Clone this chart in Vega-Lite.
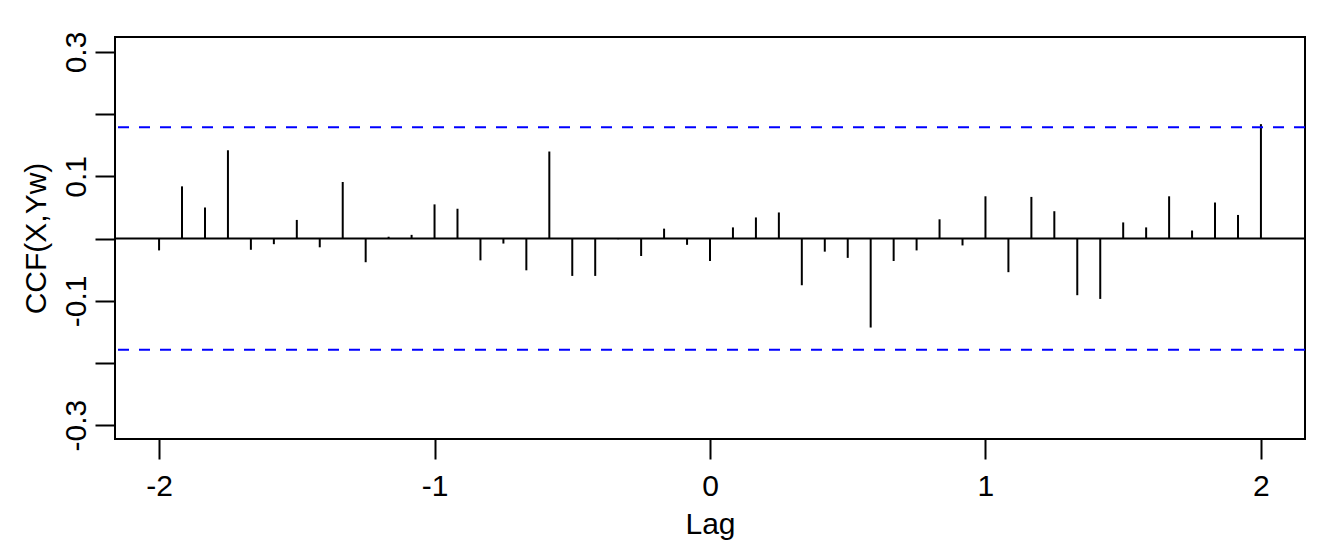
{
  "$schema": "https://vega.github.io/schema/vega-lite/v6.json",
  "width": 1190,
  "height": 402,
  "autosize": {"type": "none"},
  "padding": {"left": 115, "top": 37, "right": 39, "bottom": 117},
  "background": "white",
  "config": {
    "view": {"stroke": "black", "strokeWidth": 2},
    "font": "Liberation Sans"
  },
  "encoding": {
    "y": {
      "field": "ccf",
      "type": "quantitative",
      "scale": {"domain": [-0.3222, 0.3241], "nice": false, "zero": false},
      "axis": {
        "title": "CCF(X,Yw)",
        "values": [-0.3, -0.2, -0.1, 0, 0.1, 0.2, 0.3],
        "labelExpr": "abs(round(datum.value*10)) % 2 == 1 ? (round(datum.value*10) < 0 ? '-0.' : '0.') + abs(round(datum.value*10)) : ''",
        "grid": false,
        "domain": false,
        "tickSize": 20,
        "tickWidth": 2,
        "tickColor": "black",
        "labelFont": "Liberation Sans",
        "labelFontSize": 30,
        "labelColor": "black",
        "labelAngle": 270,
        "labelAlign": "center",
        "labelBaseline": "alphabetic",
        "labelPadding": 10,
        "labelOverlap": false,
        "labelFlush": false,
        "labelBound": false,
        "titleFont": "Liberation Sans",
        "titleFontSize": 30,
        "titleFontWeight": "normal",
        "titleColor": "black",
        "titleAngle": 270,
        "titleAlign": "center",
        "titleBaseline": "alphabetic",
        "titleX": -70,
        "titleY": 201
      }
    }
  },
  "layer": [
    {
      "data": {
        "values": [
          {"lag": -2, "ccf": -0.019},
          {"lag": -1.9167, "ccf": 0.084},
          {"lag": -1.8333, "ccf": 0.05},
          {"lag": -1.75, "ccf": 0.142},
          {"lag": -1.6667, "ccf": -0.018},
          {"lag": -1.5833, "ccf": -0.009},
          {"lag": -1.5, "ccf": 0.03},
          {"lag": -1.4167, "ccf": -0.014},
          {"lag": -1.3333, "ccf": 0.091},
          {"lag": -1.25, "ccf": -0.038},
          {"lag": -1.1667, "ccf": 0.003},
          {"lag": -1.0833, "ccf": 0.006},
          {"lag": -1, "ccf": 0.055},
          {"lag": -0.9167, "ccf": 0.048},
          {"lag": -0.8333, "ccf": -0.035},
          {"lag": -0.75, "ccf": -0.008},
          {"lag": -0.6667, "ccf": -0.051},
          {"lag": -0.5833, "ccf": 0.14},
          {"lag": -0.5, "ccf": -0.06},
          {"lag": -0.4167, "ccf": -0.06},
          {"lag": -0.3333, "ccf": -0.001},
          {"lag": -0.25, "ccf": -0.028},
          {"lag": -0.1667, "ccf": 0.016},
          {"lag": -0.0833, "ccf": -0.01},
          {"lag": 0, "ccf": -0.036},
          {"lag": 0.0833, "ccf": 0.018},
          {"lag": 0.1667, "ccf": 0.034},
          {"lag": 0.25, "ccf": 0.042},
          {"lag": 0.3333, "ccf": -0.075},
          {"lag": 0.4167, "ccf": -0.021},
          {"lag": 0.5, "ccf": -0.031},
          {"lag": 0.5833, "ccf": -0.143},
          {"lag": 0.6667, "ccf": -0.036},
          {"lag": 0.75, "ccf": -0.019},
          {"lag": 0.8333, "ccf": 0.031},
          {"lag": 0.9167, "ccf": -0.011},
          {"lag": 1, "ccf": 0.068},
          {"lag": 1.0833, "ccf": -0.054},
          {"lag": 1.1667, "ccf": 0.067},
          {"lag": 1.25, "ccf": 0.044},
          {"lag": 1.3333, "ccf": -0.091},
          {"lag": 1.4167, "ccf": -0.097},
          {"lag": 1.5, "ccf": 0.026},
          {"lag": 1.5833, "ccf": 0.018},
          {"lag": 1.6667, "ccf": 0.068},
          {"lag": 1.75, "ccf": 0.013},
          {"lag": 1.8333, "ccf": 0.058},
          {"lag": 1.9167, "ccf": 0.038},
          {"lag": 2, "ccf": 0.184}
        ]
      },
      "mark": {"type": "rule", "color": "black", "strokeWidth": 2},
      "encoding": {
        "x": {
          "field": "lag",
          "type": "quantitative",
          "scale": {"domain": [-2.16, 2.16], "nice": false, "zero": false},
          "axis": {
            "title": "Lag",
            "values": [-2, -1, 0, 1, 2],
            "labelExpr": "datum.value < 0 ? '-' + abs(datum.value) : '' + datum.value",
            "grid": false,
            "domain": false,
            "tickSize": 20,
            "tickWidth": 2,
            "tickColor": "black",
            "labelFont": "Liberation Sans",
            "labelFontSize": 30,
            "labelColor": "black",
            "labelAngle": 0,
            "labelAlign": "center",
            "labelBaseline": "alphabetic",
            "labelPadding": 36,
            "labelOverlap": false,
            "labelFlush": false,
            "labelBound": false,
            "titleFont": "Liberation Sans",
            "titleFontSize": 30,
            "titleFontWeight": "normal",
            "titleColor": "black",
            "titleAlign": "center",
            "titleBaseline": "alphabetic",
            "titleX": 595,
            "titleY": 94
          }
        },
        "y2": {"datum": 0}
      }
    },
    {
      "data": {"values": [{"ccf": 0}]},
      "mark": {"type": "rule", "color": "black", "strokeWidth": 2},
      "encoding": {}
    },
    {
      "data": {"values": [{"ccf": 0.1789}, {"ccf": -0.1789}]},
      "mark": {"type": "rule", "color": "#0000ff", "strokeWidth": 2, "strokeDash": [11, 10]},
      "encoding": {}
    }
  ]
}
